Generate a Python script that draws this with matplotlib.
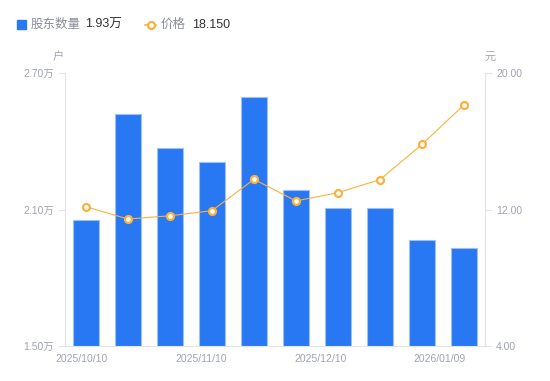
import numpy as np
import matplotlib
matplotlib.use("Agg")
import matplotlib.pyplot as plt
from matplotlib.lines import Line2D

plt.rcParams['font.family'] = ['Liberation Sans', 'Noto Sans CJK SC', 'DejaVu Sans']

# data
dates = ['2025/10/10', '2025/10/20', '2025/10/31', '2025/11/10', '2025/11/20',
         '2025/11/28', '2025/12/10', '2025/12/19', '2025/12/31', '2026/01/09']
holders = [2.054, 2.522, 2.371, 2.310, 2.596, 2.185, 2.106, 2.106, 1.965, 1.930]  # 万户
price = [12.17, 11.45, 11.64, 11.94, 13.78, 12.51, 13.00, 13.76, 15.83, 18.15]
left_ticks = [1.5, 2.1, 2.7]
right_ticks = [4.0, 12.0, 20.0]
shown_dates = ['2025/10/10', '2025/11/10', '2025/12/10', '2026/01/09']

BLUE = '#2878f4'
ORANGE = '#fbb13c'
GREY = '#a0a3b4'
AXIS = '#e3e4ea'

fig = plt.figure(figsize=(5.5, 3.81), dpi=100)
ax = fig.add_axes([65 / 550, 35 / 381, 420 / 550, 272.7 / 381])
ax2 = ax.twinx()

x = np.arange(len(dates))
ax.bar(x, holders, width=0.6, color=BLUE, edgecolor='#9cc0fa', linewidth=0.8, zorder=2)
ax.set_xlim(-0.5, len(dates) - 0.5)
ax.set_ylim(left_ticks[0], left_ticks[-1])
ax.set_yticks(left_ticks)
ax.set_yticklabels([f'{v:.2f}万' for v in left_ticks])

ax2.plot(x, price, color=ORANGE, lw=0.8, marker='o', ms=5, mfc='white',
         mec=ORANGE, mew=1.6, zorder=3)
ax2.set_ylim(right_ticks[0], right_ticks[-1])
ax2.set_yticks(right_ticks)
ax2.set_yticklabels([f'{v:.2f}' for v in right_ticks])

# date labels are spread evenly along the axis, not on every bar
ax.set_xticks(np.linspace(-0.1, 8.43, len(shown_dates)))
ax.set_xticklabels(shown_dates)

for a in (ax, ax2):
    for s in a.spines.values():
        s.set_visible(False)
    a.tick_params(colors=GREY, labelsize=7.5, length=5, width=0.8, color=AXIS)
ax.spines['left'].set_visible(True)
ax.spines['left'].set_color(AXIS)
ax.spines['bottom'].set_visible(True)
ax.spines['bottom'].set_color(AXIS)
ax2.spines['right'].set_visible(True)
ax2.spines['right'].set_color(AXIS)
ax.tick_params(axis='x', length=0, pad=6)
ax.tick_params(axis='y', pad=3)
ax2.tick_params(axis='y', pad=3)
ax.set_zorder(ax2.get_zorder() - 1)
ax2.patch.set_visible(False)

# unit labels
fig.text(58 / 550, 1 - 57 / 381, '户', color=GREY, fontsize=8, ha='center', va='center')
fig.text(490 / 550, 1 - 57 / 381, '元', color=GREY, fontsize=8, ha='center', va='center')

# legend row
ly = 1 - 25 / 381
fig.patches.append(plt.Rectangle((17 / 550, 1 - 29 / 381), 8.5 / 550, 8.5 / 381,
                                 transform=fig.transFigure, color=BLUE, figure=fig))
fig.text(31 / 550, ly, '股东数量', color='#8a8d9c', fontsize=9, va='center')
fig.text(85 / 550, ly, f'{holders[-1]:.2f}万', color='#333333', fontsize=9, va='center')
fig.lines.append(Line2D([145 / 550, 150.5 / 550, 156 / 550], [ly, ly, ly],
                        transform=fig.transFigure, color=ORANGE, lw=1.2,
                        marker='o', ms=5, markevery=[1],
                        mfc='white', mec=ORANGE, mew=1.6))
fig.text(161 / 550, ly, '价格', color='#8a8d9c', fontsize=9, va='center')
fig.text(192 / 550, ly, f'{price[-1]:.3f}', color='#333333', fontsize=9, va='center')

fig.savefig('out.png', dpi=100)
